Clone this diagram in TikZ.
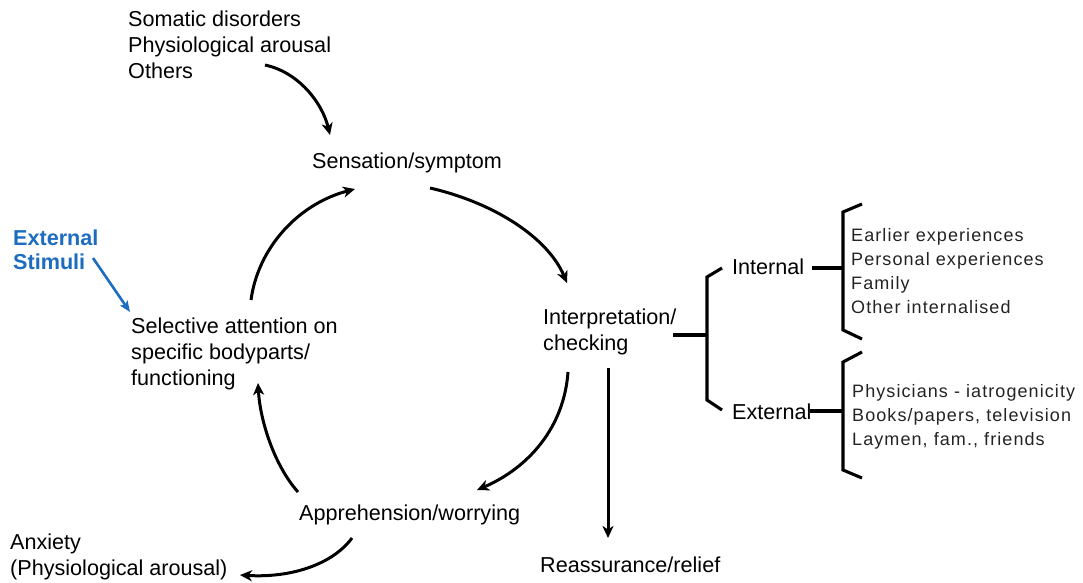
\documentclass[tikz,border=0pt]{standalone}
\usepackage{fontspec}
\setmainfont{Liberation Sans}
\newfontfamily\listfont[LetterSpace=6]{Liberation Sans}
\usetikzlibrary{arrows.meta}
\definecolor{stimblue}{RGB}{28,108,192}
\definecolor{listgray}{RGB}{35,35,35}
\begin{document}
\begin{tikzpicture}[x=1pt,y=-1pt,
  lbl/.style={inner sep=0pt,anchor=west,align=left,font=\fontsize{21.6}{26}\selectfont},
  sub/.style={inner sep=0pt,anchor=west,align=left,text=listgray,font=\listfont\fontsize{18}{24}\selectfont},
  flow/.style={line width=3pt,-{Stealth[length=12pt,width=11pt,inset=3.5pt]}},
  bracket/.style={line width=3.1pt,line join=miter}]
\useasboundingbox (0,0) rectangle (1083,582);

% cycle labels
\node[lbl] (somatic) at (128,45) {Somatic disorders\\Physiological arousal\\Others};
\node[lbl] (sensation) at (312,163) {Sensation/symptom};
\node[lbl] (interp) at (543,332) {Interpretation/\\checking};
\node[lbl] (appre) at (299,515) {Apprehension/worrying};
\node[lbl] (selective) at (131,354) {Selective attention on\\specific bodyparts/\\functioning};
\node[lbl] (anxiety) at (10,557) {Anxiety\\(Physiological arousal)};
\node[lbl] (reassure) at (540,565) {Reassurance/relief};
\node[lbl,text=stimblue,font=\bfseries\fontsize{21.6}{24}\selectfont] (stimuli) at (13,250) {External\\Stimuli};

% sources of interpretation
\node[lbl] (internal) at (732,267) {Internal};
\node[lbl] (external) at (732,412) {External};
\node[sub] (intlist) at (851,271) {Earlier experiences\\Personal experiences\\Family\\Other internalised};
\node[sub] (extlist) at (852,417) {Physicians - iatrogenicity\\Books/papers, television\\Laymen, fam., friends};

% connector end points
\coordinate (s1) at (265,65);   \coordinate (e1) at (330,135);
\coordinate (s2) at (430,188);  \coordinate (e2) at (567,283);
\coordinate (s3) at (568,372);  \coordinate (e3) at (477,490);
\coordinate (s4) at (608,368);  \coordinate (e4) at (608,538);
\coordinate (s5) at (352,538);  \coordinate (e5) at (240,575);
\coordinate (s6) at (298,492);  \coordinate (e6) at (258,383);
\coordinate (s7) at (251,300);  \coordinate (e7) at (355,189);
\coordinate (s8) at (93,258);   \coordinate (e8) at (130,312);

\draw[flow] (s1) .. controls (298,72) and (322,102) .. (e1);
\draw[flow] (s2) .. controls (495,203) and (548,238) .. (e2);
\draw[flow] (s3) .. controls (564,428) and (528,468) .. (e3);
\draw[flow] (s4) -- (e4);
\draw[flow] (s5) .. controls (332,565) and (290,578) .. (e5);
\draw[flow] (s6) .. controls (274,465) and (260,420) .. (e6);
\draw[flow] (s7) .. controls (258,248) and (298,204) .. (e7);
\draw[flow,draw=stimblue,line width=2.6pt,-{Stealth[length=11pt,width=9pt,inset=2.5pt]}] (s8) -- (e8);

% brackets
\coordinate (b0) at (673,335);
\draw[bracket] (b0) -- (707,335);
\draw[bracket] (722,268) -- (707,277) -- (707,400) -- (722,410);
\draw[bracket] (812,268) -- (843,268);
\draw[bracket] (862,204) -- (843,212) -- (843,330) -- (862,339);
\draw[bracket] (810,411) -- (843,411);
\draw[bracket] (862,352) -- (843,362) -- (843,470) -- (862,478);
\end{tikzpicture}
\end{document}
